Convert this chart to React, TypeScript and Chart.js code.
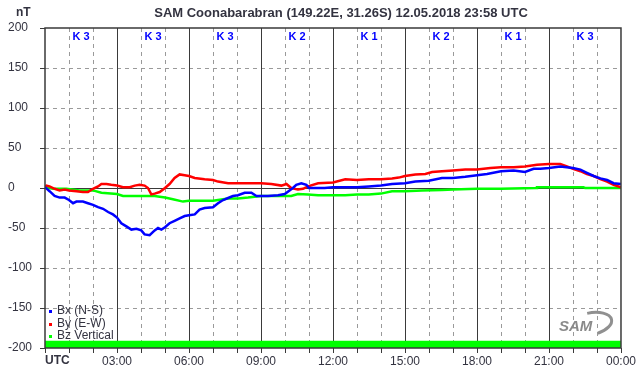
import { useEffect, useRef } from 'react';
import { Chart, registerables } from 'chart.js';

Chart.register(...registerables);

const titleText = 'SAM Coonabarabran (149.22E, 31.26S) 12.05.2018 23:58 UTC';
const unitLabel = 'nT';
const xTickLabels = ['UTC', '03:00', '06:00', '09:00', '12:00', '15:00', '18:00', '21:00', '00:00'];
const kIndex = [3, 3, 3, 2, 1, 2, 1, 3];
const seriesNames = ['Bx (N-S)', 'By (E-W)', 'Bz Vertical'];
const seriesColors = ['#0000ff', '#ff0000', '#00ff00'];

const bxHours = [0, 0.19, 0.4, 0.61, 0.82, 1.0, 1.17, 1.31, 1.58, 1.79, 2.0, 2.21, 2.42, 2.63, 2.83, 3.0, 3.18, 3.39, 3.6, 3.81, 4.01, 4.15, 4.36, 4.57, 4.71, 4.85, 5.0, 5.19, 5.4, 5.61, 5.82, 6.0, 6.24, 6.44, 6.65, 7.0, 7.21, 7.42, 7.63, 7.83, 8.04, 8.32, 8.6, 8.81, 9.0, 9.29, 9.71, 9.99, 10.19, 10.33, 10.47, 10.68, 10.89, 11.0, 11.24, 11.65, 12.0, 12.51, 13.0, 13.49, 14.0, 14.46, 15.0, 15.43, 15.99, 16.54, 17.0, 17.51, 18.0, 18.42, 19.0, 19.53, 20.0, 20.36, 20.64, 21.0, 21.47, 22.0, 22.31, 22.58, 22.86, 23.14, 23.42, 23.69, 24.0];
const bxValues = [1, -4, -10, -12, -12, -15, -19, -17, -17, -19, -21, -24, -26, -30, -33, -37, -44, -48, -52, -51, -53, -58, -59, -53, -50, -52, -49, -44, -41, -38, -35, -34, -33, -27, -25, -24, -19, -15, -12.5, -10, -9, -6, -6, -10, -10, -10, -9, -7.5, -3, 0, 4, 6, 4, 0, 0, 0, 1, 1, 1, 2, 3, 5, 6, 8, 9, 12.5, 12.5, 14, 16, 17.5, 21, 22, 20, 24, 24, 25, 27, 25, 23, 19, 15, 12, 10, 6, 5];

const byHours = [0, 0.06, 0.19, 0.4, 0.61, 0.82, 1.0, 1.31, 1.58, 1.79, 2.0, 2.21, 2.35, 2.56, 2.76, 3.0, 3.25, 3.53, 3.74, 3.94, 4.15, 4.29, 4.43, 4.57, 4.78, 5.0, 5.19, 5.4, 5.61, 5.82, 6.0, 6.24, 6.65, 7.0, 7.21, 7.63, 8.04, 8.6, 9.0, 9.43, 9.85, 10.06, 10.26, 10.54, 10.75, 10.96, 11.38, 12.0, 12.51, 13.0, 13.49, 14.0, 14.46, 14.74, 15.0, 15.43, 15.85, 16.13, 16.54, 17.0, 17.51, 18.0, 18.56, 19.0, 19.53, 20.0, 20.5, 21.0, 21.47, 21.75, 22.0, 22.31, 22.58, 22.86, 23.14, 23.42, 23.69, 24.0];
const byValues = [1, 3, 2, -1, -3, -2, -3, -4, -5, -5, -1, 2, 5, 5, 4, 3, 1, 1, 3, 4, 3, 0, -8, -7, -5, 0, 5, 12.5, 17, 16, 15, 12.5, 11, 10, 8, 6, 6, 6, 6, 5, 3, 5, 0, -2, -1, 2, 6, 7, 11, 10, 11, 11, 12, 13, 15, 17, 17.5, 20, 21, 22, 23, 23, 25, 26, 26, 27, 29, 30, 30, 27, 24, 21, 17.5, 15, 11, 8, 4, 1];

const bzHours = [0, 0.33, 0.89, 1.44, 2.0, 2.35, 3.0, 3.25, 4.0, 4.57, 5.0, 5.33, 5.75, 6.0, 6.4, 7.0, 7.63, 8.04, 8.46, 9.0, 9.71, 10.26, 10.54, 10.96, 11.38, 12.0, 12.51, 13.0, 13.49, 14.0, 14.46, 15.0, 15.71, 16.54, 17.0, 18.0, 19.0, 20.46, 20.5, 22.43, 22.5, 24.0];
const bzValues = [1, -1, -1, -3, -3, -6, -7.5, -10, -10, -10, -12, -14, -17, -16, -16, -16, -13, -13, -12, -10, -10, -10, -7.5, -8, -9, -9, -9, -8, -8, -7, -4, -4, -3, -2.5, -2, -1, -1, 0, 1, 1, 0, 0];

const bandHours = [0, 24];
const bandValues = [-191, -191];

const FONT = 'Arial, "Liberation Sans", sans-serif';
const TEXT = '#333340';

const toPoints = (hs: number[], vs: number[]) => hs.map((h, i) => ({ x: h, y: vs[i] }));

const decor = {
  id: 'decor',
  beforeDatasetsDraw(chart: any) {
    const { ctx, chartArea, scales } = chart;
    const { left, right, top, bottom } = chartArea;
    const x = scales.x;
    const y = scales.y;
    ctx.save();
    ctx.lineWidth = 1;
    ctx.strokeStyle = '#9a9a9a';
    ctx.setLineDash([4, 4]);
    for (let h = 1; h < 24; h++) {
      if (h % 3 === 0) continue;
      const px = Math.round(x.getPixelForValue(h)) + 0.5;
      ctx.beginPath();
      ctx.moveTo(px, top);
      ctx.lineTo(px, bottom);
      ctx.stroke();
    }
    for (let v = -150; v <= 150; v += 50) {
      if (v === 0) continue;
      const py = Math.round(y.getPixelForValue(v)) + 0.5;
      ctx.beginPath();
      ctx.moveTo(left, py);
      ctx.lineTo(right, py);
      ctx.stroke();
    }
    ctx.setLineDash([]);
    ctx.strokeStyle = '#3a3a3a';
    ctx.lineWidth = 1;
    for (let h = 3; h < 24; h += 3) {
      const px = Math.round(x.getPixelForValue(h)) + 0.5;
      ctx.beginPath();
      ctx.moveTo(px, top);
      ctx.lineTo(px, bottom);
      ctx.stroke();
    }
    const zy = Math.round(y.getPixelForValue(0)) + 0.5;
    ctx.beginPath();
    ctx.moveTo(left, zy);
    ctx.lineTo(right, zy);
    ctx.stroke();
    ctx.restore();
  },
  afterDatasetsDraw(chart: any) {
    const { ctx, chartArea, scales } = chart;
    const { left, right, top, bottom } = chartArea;
    const x = scales.x;
    const y = scales.y;
    ctx.save();
    ctx.strokeStyle = '#3a3a3a';
    ctx.lineWidth = 1.5;
    ctx.strokeRect(left, top, right - left, bottom - top);
    ctx.lineWidth = 1;
    for (let h = 0; h <= 24; h++) {
      const px = Math.round(x.getPixelForValue(h)) + 0.5;
      ctx.beginPath();
      ctx.moveTo(px, bottom);
      ctx.lineTo(px, bottom + 5);
      ctx.stroke();
    }
    for (let v = -200; v <= 200; v += 50) {
      const py = Math.round(y.getPixelForValue(v)) + 0.5;
      ctx.beginPath();
      ctx.moveTo(left - 5, py);
      ctx.lineTo(left, py);
      ctx.stroke();
    }
    ctx.restore();
  },
  afterDraw(chart: any) {
    const { ctx, chartArea, scales } = chart;
    const { left, top, bottom } = chartArea;
    const x = scales.x;
    ctx.save();
    // title
    ctx.fillStyle = TEXT;
    ctx.font = `bold 13px ${FONT}`;
    ctx.textAlign = 'center';
    ctx.textBaseline = 'middle';
    ctx.fillText(titleText, 341, 13);
    // unit
    ctx.font = `bold 12px ${FONT}`;
    ctx.textAlign = 'left';
    ctx.fillText(unitLabel, 16, 13);
    // K index
    ctx.fillStyle = '#0000ff';
    ctx.font = `bold 11px ${FONT}`;
    ctx.textAlign = 'center';
    kIndex.forEach((k, i) => {
      ctx.fillText(`K ${k}`, x.getPixelForValue(1.5 + 3 * i), top + 9);
    });
    // UTC label
    ctx.fillStyle = TEXT;
    ctx.font = `bold 12px ${FONT}`;
    ctx.textAlign = 'left';
    ctx.fillText(xTickLabels[0], left, bottom + 13);
    // legend
    ctx.font = `12px ${FONT}`;
    seriesNames.forEach((name, i) => {
      const cy = 311 + i * 12.5;
      ctx.fillStyle = seriesColors[i];
      ctx.fillRect(49, Math.round(cy) - 1, 3, 3);
      ctx.fillStyle = TEXT;
      ctx.textBaseline = 'middle';
      ctx.fillText(name, 57, cy);
    });
    // logo
    ctx.fillStyle = '#8a8a8a';
    ctx.font = `italic bold 15px ${FONT}`;
    ctx.textAlign = 'left';
    ctx.fillText('SAM', 559, 327);
    ctx.strokeStyle = '#909090';
    ctx.lineWidth = 3;
    ctx.beginPath();
    ctx.ellipse(590, 324, 22, 11, -0.2, -1.6, 1.3);
    ctx.stroke();
    ctx.restore();
  },
};

export default function App() {
  const ref = useRef<HTMLCanvasElement>(null);
  useEffect(() => {
    document.body.style.margin = '0';
    const canvas = ref.current!;
    const chart = new Chart(canvas, {
      type: 'line',
      data: {
        datasets: [
          {
            label: seriesNames[0],
            data: toPoints(bxHours, bxValues),
            borderColor: seriesColors[0],
            borderWidth: 2.5,
            pointRadius: 0,
            tension: 0,
          },
          {
            label: seriesNames[1],
            data: toPoints(byHours, byValues),
            borderColor: seriesColors[1],
            borderWidth: 2.5,
            pointRadius: 0,
            tension: 0,
          },
          {
            label: seriesNames[2],
            data: toPoints(bzHours, bzValues),
            borderColor: seriesColors[2],
            borderWidth: 2.5,
            pointRadius: 0,
            tension: 0,
          },
          {
            label: 'band',
            data: toPoints(bandHours, bandValues),
            borderWidth: 0,
            borderColor: 'rgba(0,0,0,0)',
            backgroundColor: '#00ff00',
            fill: 'start',
            pointRadius: 0,
          },
        ],
      },
      options: {
        responsive: false,
        animation: false,
        events: [],
        layout: { padding: { left: 8, right: 20, top: 28, bottom: 0 } },
        plugins: {
          legend: { display: false },
          title: { display: false },
          tooltip: { enabled: false },
        },
        scales: {
          x: {
            type: 'linear',
            min: 0,
            max: 24,
            grid: { display: false, drawTicks: false },
            border: { display: false },
            ticks: {
              stepSize: 1,
              autoSkip: false,
              maxRotation: 0,
              padding: 6,
              color: TEXT,
              font: { family: FONT, size: 12 },
              callback: (v: any) => {
                const n = Number(v);
                return n > 0 && n % 3 === 0 ? xTickLabels[n / 3] : '';
              },
            },
            afterFit: (s: any) => {
              s.height = 28;
            },
          },
          y: {
            min: -200,
            max: 200,
            grid: { display: false, drawTicks: false },
            border: { display: false },
            ticks: {
              stepSize: 50,
              crossAlign: 'far',
              color: TEXT,
              font: { family: FONT, size: 12 },
            },
            afterFit: (s: any) => {
              s.width = 37;
            },
          },
        },
      },
      plugins: [decor],
    } as any);
    return () => chart.destroy();
  }, []);
  return (
    <div style={{ width: 642, height: 376 }}>
      <canvas ref={ref} width={642} height={376} style={{ width: 642, height: 376, display: 'block' }} />
    </div>
  );
}
